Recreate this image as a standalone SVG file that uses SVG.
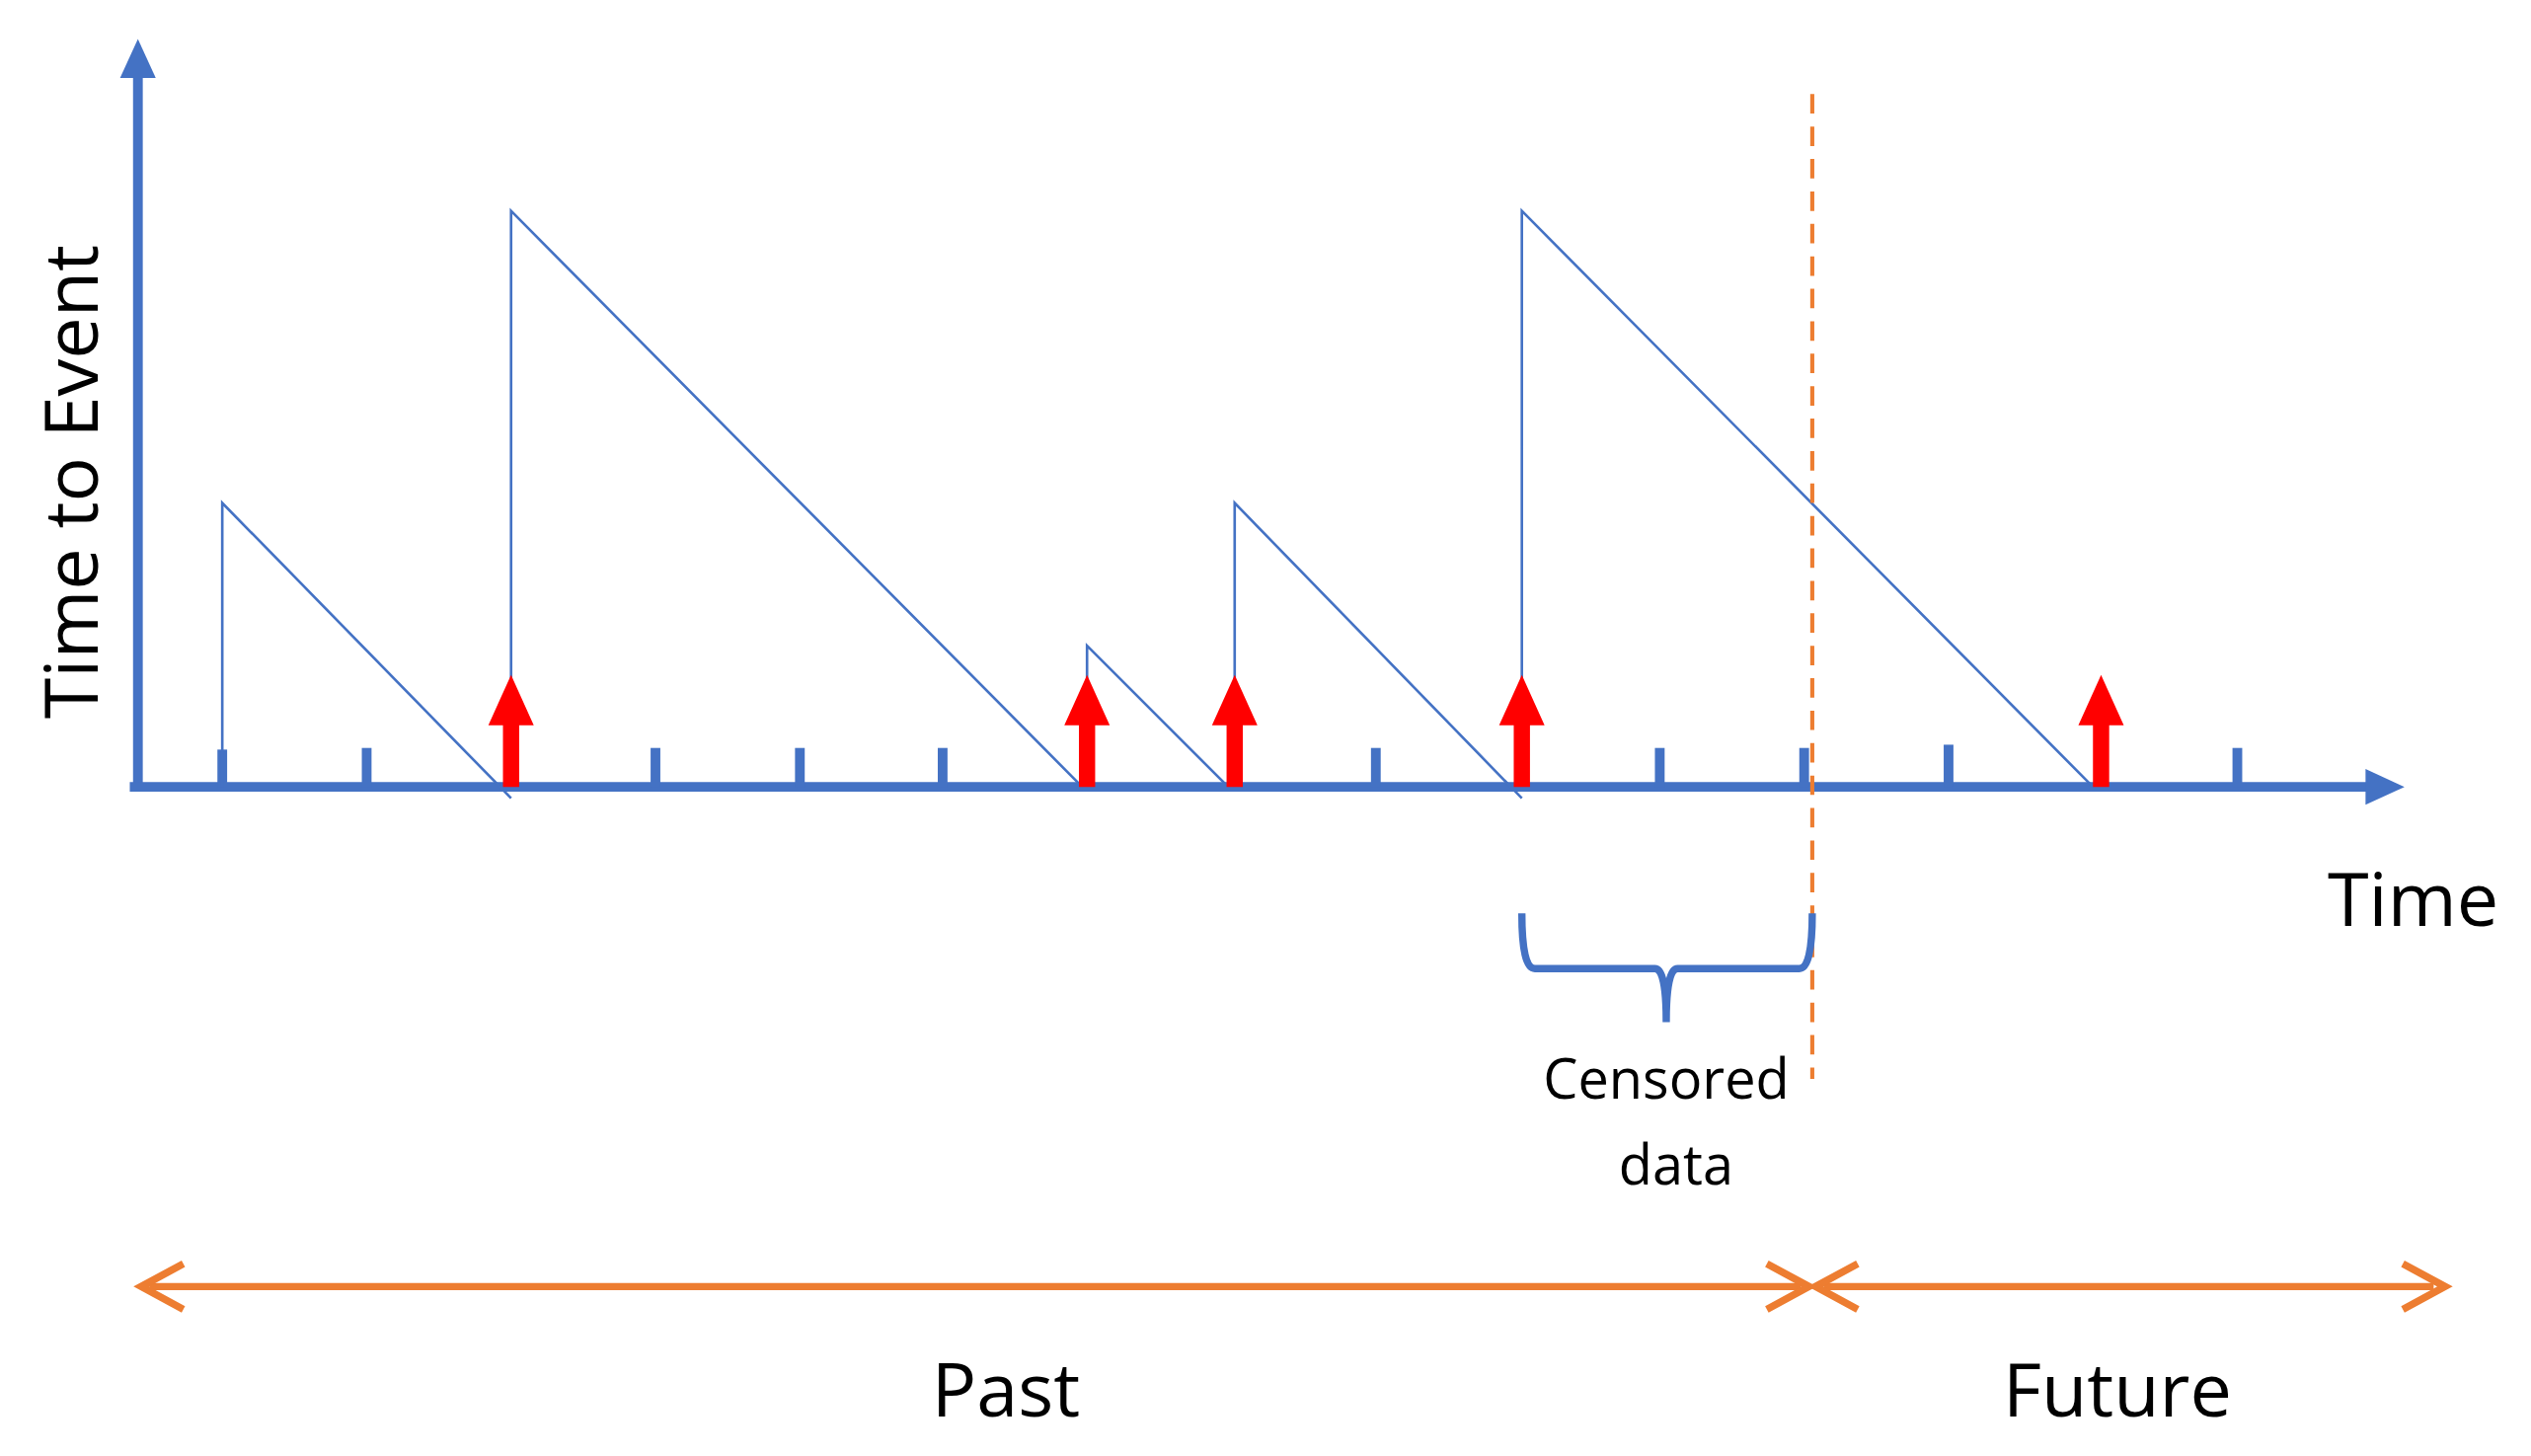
<svg xmlns="http://www.w3.org/2000/svg" width="2564" height="1475" viewBox="0 0 2564 1475">
<style>
.ax{stroke:#4472C4;stroke-width:6;fill:none}
.tk{stroke:#4472C4;stroke-width:6}
.saw{stroke:#4472C4;stroke-width:1.6;fill:none}
.ev{fill:#FF0000}
.or{stroke:#ED7D31;stroke-width:4.5;fill:none}
text{font-family:"Open Sans","Noto Sans","Liberation Sans",sans-serif;fill:#000}
</style>
<rect width="2564" height="1475" fill="#fff"/>
<g transform="scale(1.6436)">
<g id="axes">
<line class="ax" x1="85" y1="487" x2="85" y2="45"/>
<polygon points="85,24 74,48 96,48" fill="#4472C4"/>
<line class="ax" x1="80" y1="485" x2="1460" y2="485"/>
<polygon points="1482,485 1458,474 1458,496" fill="#4472C4"/>
<g class="tk">
<line x1="137" y1="462" x2="137" y2="485"/><line x1="226" y1="461" x2="226" y2="485"/>
<line x1="404" y1="461" x2="404" y2="485"/><line x1="493" y1="461" x2="493" y2="485"/>
<line x1="581" y1="461" x2="581" y2="485"/><line x1="848" y1="461" x2="848" y2="485"/>
<line x1="1023" y1="461" x2="1023" y2="485"/><line x1="1112" y1="461" x2="1112" y2="485"/>
<line x1="1201" y1="459" x2="1201" y2="485"/><line x1="1379" y1="461" x2="1379" y2="485"/>
</g>
</g>
<g id="sawtooth">
<polyline class="saw" points="137,485 137,310 315,492"/>
<polyline class="saw" points="315,485 315,130 667,485"/>
<polyline class="saw" points="670,485 670,398 757,485"/>
<polyline class="saw" points="761,485 761,310 938,492"/>
<polyline class="saw" points="938,485 938,130 1290,485"/>
</g>
<g id="events">
<g transform="translate(315,0)"><polygon class="ev" points="0,416 -14,447 -5,447 -5,485 5,485 5,447 14,447"/></g>
<g transform="translate(670,0)"><polygon class="ev" points="0,416 -14,447 -5,447 -5,485 5,485 5,447 14,447"/></g>
<g transform="translate(761,0)"><polygon class="ev" points="0,416 -14,447 -5,447 -5,485 5,485 5,447 14,447"/></g>
<g transform="translate(938,0)"><polygon class="ev" points="0,416 -14,447 -5,447 -5,485 5,485 5,447 14,447"/></g>
<g transform="translate(1295,0)"><polygon class="ev" points="0,416 -14,447 -5,447 -5,485 5,485 5,447 14,447"/></g>
</g>
<g id="cutoff"><line x1="1117" y1="58" x2="1117" y2="665" stroke="#ED7D31" stroke-width="2.5" stroke-dasharray="12,8"/></g>
<g id="brace">
<path d="M938,563 Q938,597 946,597 L1020,597 Q1027,597 1027,630 Q1027,597 1034,597 L1109,597 Q1117,597 1117,563" fill="none" stroke="#4472C4" stroke-width="4.5"/>
</g>
<g id="periods">
<line class="or" x1="92" y1="793" x2="1110" y2="793"/>
<polyline class="or" points="113,779 87,793 113,807"/>
<polyline class="or" points="1089,779 1115,793 1089,807"/>
<line class="or" x1="1124" y1="793" x2="1500" y2="793"/>
<polyline class="or" points="1145,779 1119,793 1145,807"/>
<polyline class="or" points="1481,779 1507,793 1481,807"/>
</g>
<g id="labels">
<text x="60" y="297" font-size="46" text-anchor="middle" transform="rotate(-90 60 297)">Time to Event</text>
<text x="1540" y="571" font-size="46" text-anchor="end">Time</text>
<text x="1027" y="677" font-size="34" text-anchor="middle">Censored</text>
<text x="1033" y="730" font-size="34" text-anchor="middle">data</text>
<text x="620" y="873" font-size="46" text-anchor="middle">Past</text>
<text x="1305" y="873" font-size="46" text-anchor="middle">Future</text>
</g>
</g>
</svg>
